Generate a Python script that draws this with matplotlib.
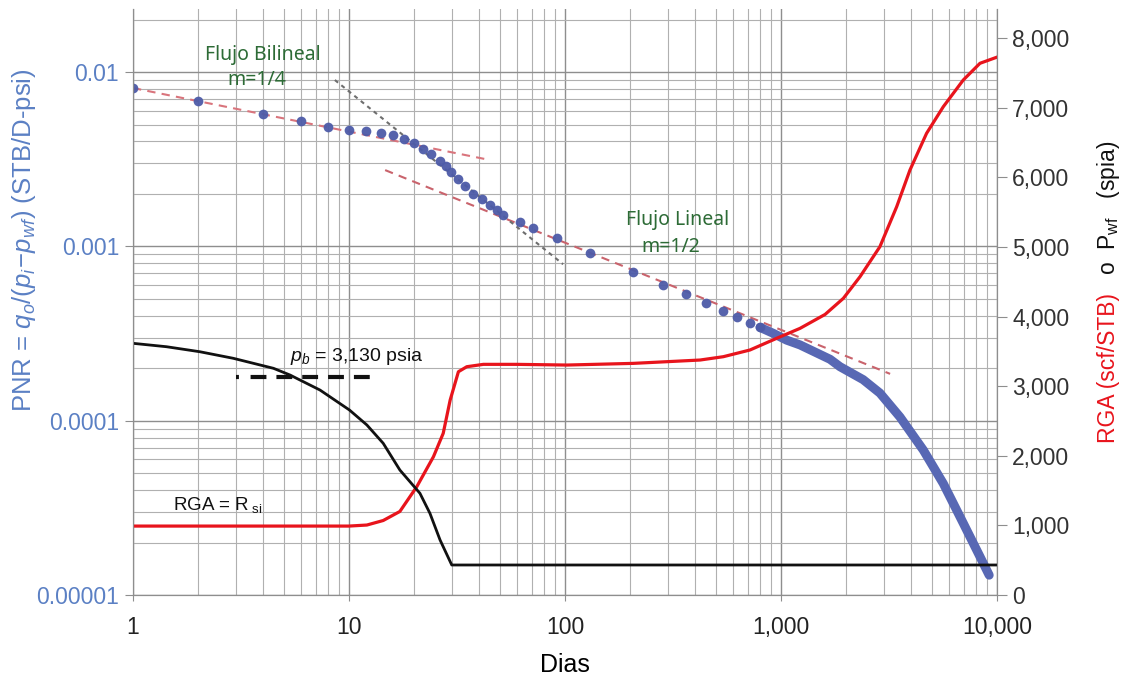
import matplotlib
matplotlib.use("Agg")
import matplotlib.pyplot as plt
from matplotlib.ticker import FixedLocator, LogLocator, NullFormatter, FuncFormatter

plt.rcParams['font.family'] = ['Liberation Sans', 'DejaVu Sans']
plt.rcParams['mathtext.fontset'] = 'custom'
plt.rcParams['mathtext.rm'] = 'Liberation Sans'
plt.rcParams['mathtext.it'] = 'Liberation Sans:italic'

# PNR points (sparse markers)
pnr_days = [1, 2, 4, 6, 8, 10, 12, 14, 16, 18, 20, 22, 24, 26.4, 28, 29.6, 31.8,
            34.4, 37.7, 41.2, 45, 48.3, 51.8, 62, 70.8, 91.4, 130, 207, 285, 363,
            450, 541, 624, 718, 800]
pnr_vals = [0.0081, 0.0068, 0.00574, 0.00524, 0.00482, 0.00465, 0.00459, 0.00447,
            0.00435, 0.00411, 0.0039, 0.00363, 0.00339, 0.0031, 0.0029, 0.00267,
            0.00242, 0.00222, 0.00201, 0.00186, 0.00173, 0.00162, 0.00151, 0.00138,
            0.00127, 0.00111, 0.00092, 0.00071, 0.0006, 0.000532, 0.000471,
            0.000426, 0.000392, 0.000362, 0.000343]

# PNR dense late-time data (drawn as a thick band of points)
pnr_late_days = [800, 921, 1061, 1225, 1687, 1876, 2400, 2870, 3555, 4560, 5640, 6980, 8340, 9200]
pnr_late_vals = [0.000343, 0.000317, 0.00029, 0.000272, 0.000225, 0.000204, 0.000172,
                 0.000144, 0.000105, 6.78e-5, 4.36e-5, 2.58e-5, 1.66e-5, 1.3e-5]

# RGA (scf/STB)
rga_days = [1, 10, 12.1, 14.4, 17.2, 20.6, 24.6, 27.3, 29.4, 32.1, 35.1, 41.9, 59.7,
            102, 207, 422, 541, 718, 955, 1225, 1600, 1944, 2322, 2870, 3432, 3954,
            4720, 5640, 6980, 8340, 9950]
rga_vals = [990, 990, 1005, 1070, 1200, 1556, 1986, 2322, 2800, 3207, 3279, 3313,
            3313, 3303, 3327, 3375, 3423, 3519, 3687, 3830, 4030, 4261, 4572, 5003,
            5577, 6104, 6631, 7013, 7397, 7637, 7723]

# Pwf (psia)
pwf_days = [1, 1.43, 2.04, 2.91, 4.47, 5.33, 7.34, 10.05, 12.1, 14.4, 17.2, 21.3,
            23.7, 26.4, 29.9, 10000]
pwf_vals = [3615, 3566, 3494, 3400, 3256, 3160, 2944, 2657, 2442, 2179, 1795, 1461,
            1173, 790, 431, 431]

# straight-line fits
bilin_days = [1, 45]
lin_days = [14.7, 3200]
unit_days = [8.6, 98]
pb_days = [3.0, 13.7]
pb_value = 3130

blue_lbl = '#5b80c4'
green = '#2d6b36'

fig = plt.figure(figsize=(11.26, 6.81), dpi=100)
ax = fig.add_axes([133 / 1126, 1 - 595 / 681, (997 - 133) / 1126, (595 - 9) / 681])
ax2 = ax.twinx()

ax.set_xscale('log')
ax.set_yscale('log')
ax.set_xlim(1, 10000)
ax.set_ylim(1e-5, 0.023)
ax2.set_ylim(0, 8417)

ax.xaxis.set_minor_locator(LogLocator(base=10, subs=range(2, 10), numticks=20))
ax.yaxis.set_minor_locator(LogLocator(base=10, subs=range(2, 10), numticks=20))
ax.xaxis.set_minor_formatter(NullFormatter())
ax.yaxis.set_minor_formatter(NullFormatter())
ax.xaxis.set_major_locator(FixedLocator([1, 10, 100, 1000, 10000]))
ax.xaxis.set_major_formatter(FuncFormatter(lambda v, p: f"{v:,.0f}"))
ax.yaxis.set_major_locator(FixedLocator([1e-5, 1e-4, 1e-3, 1e-2]))
ax.yaxis.set_major_formatter(FuncFormatter(lambda v, p: f"{v:.5f}".rstrip('0')))
ax2.yaxis.set_major_locator(FixedLocator(range(0, 9000, 1000)))
ax2.yaxis.set_major_formatter(FuncFormatter(lambda v, p: f"{v:,.0f}"))

ax.grid(True, which='major', color='#8e8e8e', lw=1.0)
ax.grid(True, which='minor', color='#b0b0b0', lw=0.8)
ax.set_axisbelow(True)

for a in (ax, ax2):
    a.spines['top'].set_visible(False)
    for s in ('left', 'right', 'bottom'):
        a.spines[s].set_color('#8e8e8e')

ax.tick_params(axis='x', which='major', length=4, pad=11, labelsize=16.5, colors='#8e8e8e',
               labelcolor='#222222')
ax.tick_params(axis='x', which='minor', length=0)
ax.tick_params(axis='y', which='major', length=6, pad=4, labelsize=16.5, colors='#8e8e8e',
               labelcolor=blue_lbl)
ax.tick_params(axis='y', which='minor', length=0)
ax2.tick_params(axis='y', length=7, pad=4, labelsize=16.5, colors='#8e8e8e',
                labelcolor='#333333')

# fit lines
ax.plot(bilin_days, [0.0081 * d ** -0.25 for d in bilin_days], color='#d9747c',
        lw=1.5, ls=(0, (4, 3)))
ax.plot(lin_days, [0.0105 * d ** -0.5 for d in lin_days], color='#c9636c',
        lw=1.5, ls=(0, (4, 3)))
ax.plot(unit_days, [0.0774 / d for d in unit_days], color='#6e6e6e',
        lw=1.5, ls=(0, (2, 2)))

# PNR data
ax.plot(pnr_late_days, pnr_late_vals, color='#5868b4', lw=6.5, solid_capstyle='round')
ax.plot(pnr_days, pnr_vals, 'o', color='#4d5ba8', ms=7, mec='none', alpha=0.95)

# RGA and Pwf
ax2.plot(rga_days, rga_vals, color='#e8141c', lw=2.3)
ax2.plot(pwf_days, pwf_vals, color='#111111', lw=2.0)
ax2.plot(pb_days, [pb_value, pb_value], color='#111111', lw=3,
         ls=(0, (0.7, 2.8, 3.8, 2.4, 3.8, 2.4, 3.8, 2.4, 3.8, 2.4, 3.8, 2.4)))

# annotations
note_font = dict(color=green, fontsize=14, family='Noto Sans', ha='center', va='center')
ax.text(3.98, 0.0125, 'Flujo Bilineal', **note_font)
ax.text(3.75, 0.0090, 'm=1/4', **note_font)
ax.text(333, 0.001416, 'Flujo Lineal', **note_font)
ax.text(310, 0.00099, 'm=1/2', **note_font)
ax2.text(5.33, 3420, r'$p_b$ = 3,130 psia', color='#111111', fontsize=14,
         ha='left', va='center')
ax2.text(1.53, 1290, r'RGA = R$_{\;\rm si}$', color='#111111', fontsize=13.5,
         ha='left', va='center')

ax.set_xlabel('Dias', fontsize=18, labelpad=10)

fig.text(24 / 1126, 1 - 240 / 681, r'PNR = $q_o/(p_i\!-\!p_{wf})$ (STB/D-psi)',
         rotation=90, ha='center', va='center', fontsize=18.5, color=blue_lbl)

# right axis label in two colours, sharing one baseline
base_x = 1115 / 1126
red_part = fig.text(base_x, 1 - 443 / 681, 'RGA (scf/STB)', rotation=90,
                    rotation_mode='anchor', ha='left', va='baseline', fontsize=16.5,
                    color='#e8141c')
fig.canvas.draw()
bb = red_part.get_window_extent().transformed(fig.transFigure.inverted())
fig.text(base_x, bb.y1 + 18 / 681, r'o  P$_{\rm wf}$   (spia)', rotation=90,
         rotation_mode='anchor', ha='left', va='baseline', fontsize=16.5, color='#111111')

fig.savefig('out.png', dpi=100)
